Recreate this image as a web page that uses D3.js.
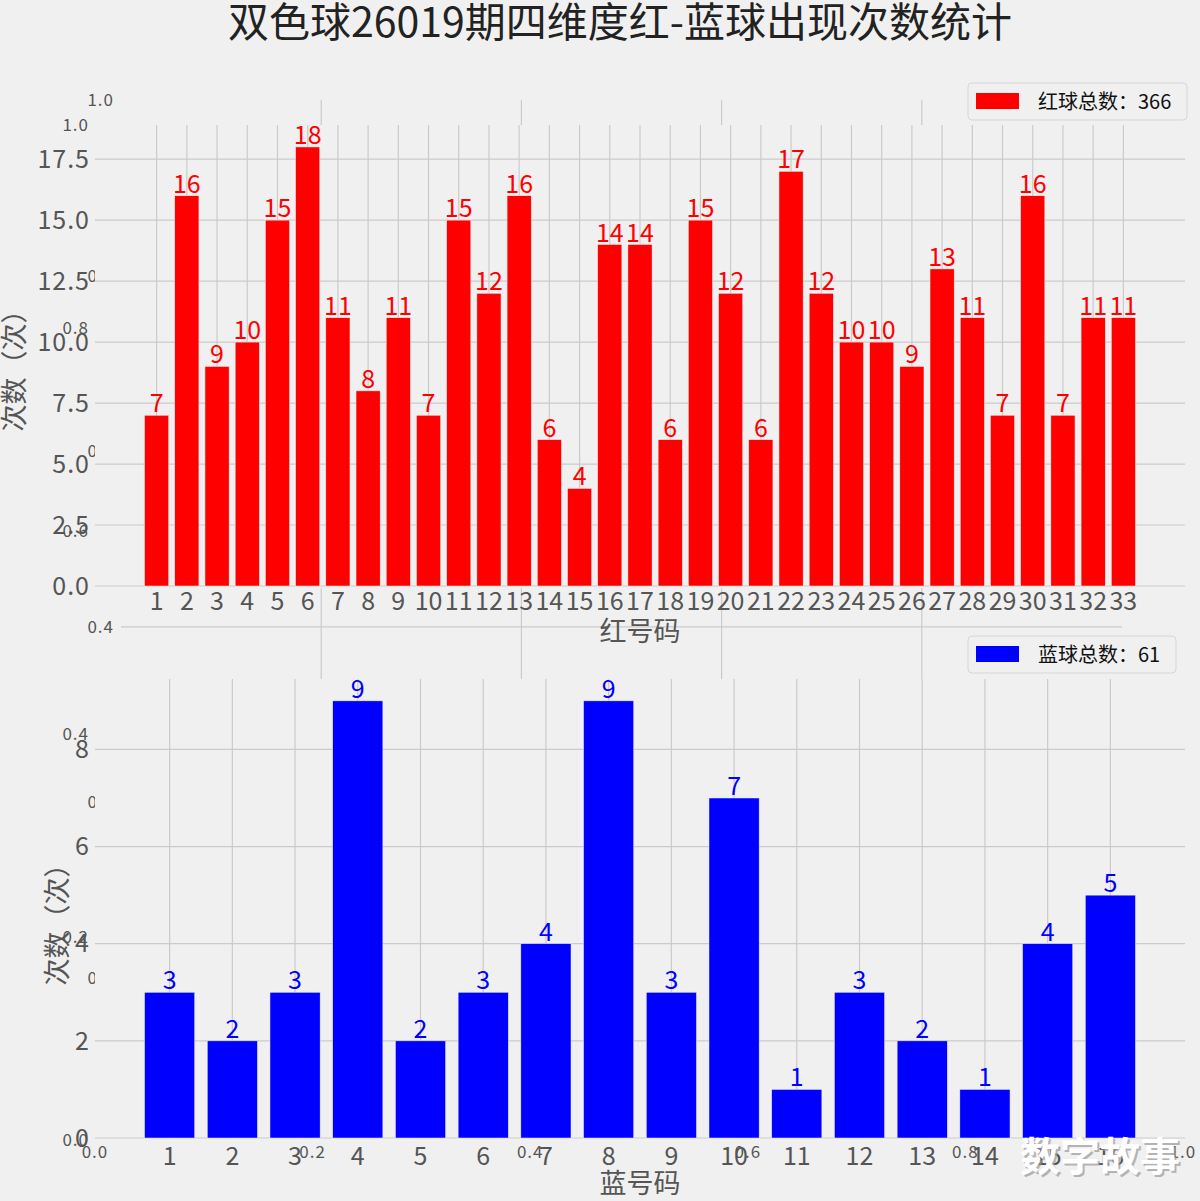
<!DOCTYPE html>
<html>
<head>
<meta charset="utf-8">
<script src="https://cdn.jsdelivr.net/npm/d3@7"></script>
<style>
  body { margin: 0; background: #f0f0f0; }
  svg { display: block; font-family: "Noto Sans CJK SC", "Noto Sans", sans-serif; }
</style>
</head>
<body>
<svg id="chart" width="1200" height="1201"></svg>
<script>
// data
const redLabels = ["1","2","3","4","5","6","7","8","9","10","11","12","13","14","15","16","17",
    "18","19","20","21","22","23","24","25","26","27","28","29","30","31","32","33"];
const redCounts = [7,16,9,10,15,18,11,8,11,7,15,12,16,6,4,14,14,6,15,12,6,17,12,10,10,9,13,11,7,16,7,11,11];
const blueLabels = ["1","2","3","4","5","6","7","8","9","10","11","12","13","14","15","16"];
const blueCounts = [3,2,3,9,2,3,4,9,3,7,1,3,2,1,4,5];
const redYTicks = [0, 2.5, 5, 7.5, 10, 12.5, 15, 17.5];
const blueYTicks = [0, 2, 4, 6, 8];
const ghostTicks = [0, 0.2, 0.4, 0.6, 0.8, 1.0];

const title = "双色球26019期四维度红-蓝球出现次数统计";
const redLegend = "红球总数：" + d3.sum(redCounts);
const blueLegend = "蓝球总数：" + d3.sum(blueCounts);

const svg = d3.select("#chart");
const bg = "#f0f0f0", gridCol = "#cbcbcb", tickCol = "#555";

svg.append("rect").attr("width", 1200).attr("height", 1201).attr("fill", bg);

// leftover empty axes underneath (matplotlib artefacts)
function ghostAxes(box, opts) {
    const x = d3.scaleLinear().domain([0, 1]).range([box.left, box.right]);
    const y = d3.scaleLinear().domain([0, 1]).range([box.bottom, box.top]);
    const g = svg.append("g");
    g.append("rect")
        .attr("x", box.left).attr("y", box.top)
        .attr("width", box.right - box.left).attr("height", box.bottom - box.top)
        .attr("fill", bg);
    if (opts.grid) {
        const inner = ghostTicks.slice(1, -1);
        g.selectAll(".gv").data(inner).enter().append("line")
            .attr("x1", d => x(d)).attr("x2", d => x(d))
            .attr("y1", box.top).attr("y2", box.bottom)
            .attr("stroke", gridCol).attr("stroke-width", 1.2);
        g.selectAll(".gh").data(inner).enter().append("line")
            .attr("y1", d => y(d)).attr("y2", d => y(d))
            .attr("x1", box.left).attr("x2", box.right)
            .attr("stroke", gridCol).attr("stroke-width", 1.2);
    }
    g.selectAll(".gy").data(ghostTicks).enter().append("text")
        .attr("x", box.left - opts.pad).attr("y", d => y(d))
        .attr("dy", "0.35em").attr("text-anchor", "end")
        .attr("fill", tickCol).style("font-size", "17px").style("letter-spacing", "1px")
        .text(d => d.toFixed(1));
    g.selectAll(".gx").data(ghostTicks).enter().append("text")
        .attr("x", d => x(d)).attr("y", box.bottom + 12)
        .attr("dy", "0.35em").attr("text-anchor", "middle")
        .attr("fill", tickCol).style("font-size", "17px").style("letter-spacing", "1px")
        .text(d => d.toFixed(1));
}

ghostAxes({ left: 95, right: 1183, top: 125, bottom: 1140 }, { grid: false, pad: 6 });
ghostAxes({ left: 121, right: 1122, top: 100, bottom: 978 }, { grid: true, pad: 7 });

function barPanel(cfg) {
    const n = cfg.values.length;
    const span = n - 1 + 0.8;
    const x = d3.scaleLinear()
        .domain([1 - 0.4 - span * 0.05, n + 0.4 + span * 0.05])
        .range([cfg.left, cfg.right]);
    const y = d3.scaleLinear()
        .domain([0, d3.max(cfg.values) * 1.05])
        .range([cfg.bottom, cfg.top]);

    const g = svg.append("g");
    g.append("rect")
        .attr("x", cfg.left).attr("y", cfg.top)
        .attr("width", cfg.right - cfg.left).attr("height", cfg.bottom - cfg.top + 2)
        .attr("fill", bg);

    // grid
    g.selectAll(".hg").data(cfg.yTicks).enter().append("line")
        .attr("x1", cfg.left).attr("x2", cfg.right)
        .attr("y1", d => y(d)).attr("y2", d => y(d))
        .attr("stroke", gridCol).attr("stroke-width", 1.2);
    g.selectAll(".vg").data(cfg.labels).enter().append("line")
        .attr("x1", (d, i) => x(i + 1)).attr("x2", (d, i) => x(i + 1))
        .attr("y1", cfg.top).attr("y2", cfg.bottom)
        .attr("stroke", gridCol).attr("stroke-width", 1.2);

    // bars
    g.selectAll(".bar").data(cfg.values).enter().append("rect")
        .attr("x", (d, i) => x(i + 1 - 0.4))
        .attr("width", x(0.8) - x(0))
        .attr("y", d => y(d))
        .attr("height", d => y(0) - y(d))
        .attr("fill", cfg.color)
        .attr("stroke", bg).attr("stroke-width", 0.5);

    g.selectAll(".val").data(cfg.values).enter().append("text")
        .attr("x", (d, i) => x(i + 1))
        .attr("y", d => y(d) - 3)
        .attr("text-anchor", "middle")
        .attr("fill", cfg.color)
        .style("font-size", "25px")
        .text(d => d);

    // tick labels
    g.selectAll(".yt").data(cfg.yTicks).enter().append("text")
        .attr("x", 90).attr("y", d => y(d))
        .attr("dy", "0.35em").attr("text-anchor", "end")
        .attr("fill", tickCol).style("font-size", "25px").style("letter-spacing", "1px")
        .text(cfg.yFormat);
    g.selectAll(".xt").data(cfg.labels).enter().append("text")
        .attr("x", (d, i) => x(i + 1)).attr("y", cfg.bottom + cfg.xPad)
        .attr("dy", "0.35em").attr("text-anchor", "middle")
        .attr("fill", tickCol).style("font-size", "25px")
        .text(d => d);

    // axis titles
    g.append("text")
        .attr("x", 640).attr("y", cfg.xTitleY)
        .attr("dy", "0.35em").attr("text-anchor", "middle")
        .attr("fill", tickCol).style("font-size", "27px")
        .text(cfg.xTitle);
    g.append("text")
        .attr("transform", `translate(${cfg.yTitleX},${cfg.yTitleY}) rotate(-90)`)
        .attr("dy", "0.35em").attr("text-anchor", "middle")
        .attr("fill", tickCol).style("font-size", "27px")
        .text("次数（次）");

    // legend
    const lg = g.append("g").attr("transform", `translate(968,${cfg.top - cfg.legendUp})`);
    lg.append("rect")
        .attr("width", cfg.legendW).attr("height", 37)
        .attr("rx", 4)
        .attr("fill", bg).attr("stroke", "#d6d6d6");
    lg.append("rect")
        .attr("x", 8).attr("y", 10).attr("width", 43).attr("height", 16)
        .attr("fill", cfg.color);
    lg.append("text")
        .attr("x", 70).attr("y", 19).attr("dy", "0.35em")
        .attr("fill", "#111").style("font-size", "20px")
        .text(cfg.legend);
}

barPanel({
    values: redCounts, labels: redLabels, yTicks: redYTicks, color: "#ff0000",
    left: 95, right: 1185, top: 125, bottom: 586,
    yFormat: d => d.toFixed(1), xPad: 15,
    xTitle: "红号码", xTitleY: 632, yTitleX: 15, yTitleY: 364,
    legend: redLegend, legendUp: 42, legendW: 219
});

barPanel({
    values: blueCounts, labels: blueLabels, yTicks: blueYTicks, color: "#0000ff",
    left: 95, right: 1185, top: 679, bottom: 1138,
    yFormat: d => d, xPad: 18,
    xTitle: "蓝号码", xTitleY: 1184, yTitleX: 58, yTitleY: 918,
    legend: blueLegend, legendUp: 43, legendW: 208
});

// title
svg.append("text")
    .attr("x", 620).attr("y", 23)
    .attr("dy", "0.35em").attr("text-anchor", "middle")
    .attr("fill", "#222").style("font-size", "41px")
    .text(title);

// watermark with soft shadow
svg.append("text")
    .attr("x", 1102).attr("y", 1159)
    .attr("dy", "0.35em").attr("text-anchor", "middle")
    .attr("fill", "#9a9a9a").attr("opacity", 0.7)
    .style("font-size", "40px").style("font-weight", "bold")
    .text("数字故事");
svg.append("text")
    .attr("x", 1100).attr("y", 1157)
    .attr("dy", "0.35em").attr("text-anchor", "middle")
    .attr("fill", "#ffffff")
    .style("font-size", "40px").style("font-weight", "bold")
    .text("数字故事");
</script>
</body>
</html>
